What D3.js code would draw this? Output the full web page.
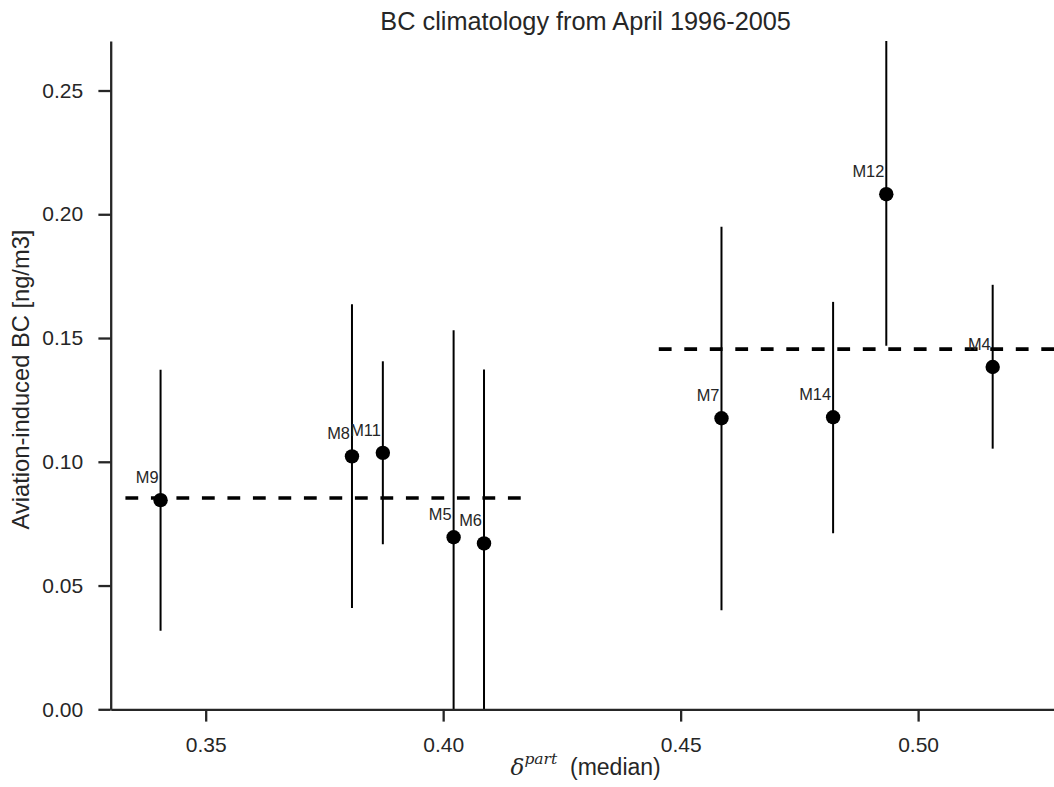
<!DOCTYPE html>
<html>
<head>
<meta charset="utf-8">
<script src="https://cdn.jsdelivr.net/npm/d3@7"></script>
<style>
  html, body { margin: 0; padding: 0; background: #fff; }
  svg { display: block; font-family: "Liberation Sans", Arial, Helvetica, sans-serif; }
</style>
</head>
<body>
<svg id="chart" width="1054" height="787"></svg>
<script>
// Model labels and their medians / spread
const models      = ["M9", "M8", "M11", "M5", "M6", "M7", "M14", "M12", "M4"];
const deltaMedian = [0.3405, 0.3808, 0.3873, 0.4022, 0.4086, 0.4586, 0.4821, 0.4933, 0.5157];
const bcMedian    = [0.0845, 0.1022, 0.1036, 0.0695, 0.0670, 0.1176, 0.1180, 0.2081, 0.1383];
const bcLow       = [0.0317, 0.0409, 0.0667, -0.020, -0.020, 0.0400, 0.0711, 0.1469, 0.1053];
const bcHigh      = [0.1372, 0.1636, 0.1406, 0.1531, 0.1373, 0.1950, 0.1646, 0.2900, 0.1715];
const modelGroup  = [0, 0, 0, 0, 0, 1, 1, 1, 1];

// Horizontal extent of the group-mean lines
const groupStart = [0.3331, 0.4454];
const groupEnd   = [0.4170, 0.5350];

const xTicks = [0.35, 0.40, 0.45, 0.50];
const yTicks = [0.00, 0.05, 0.10, 0.15, 0.20, 0.25];

const xDomain = [0.33, 0.53];
const yDomain = [0, 0.27];

const svg = d3.select("#chart");
const plotLeft = 110.7, plotRight = 1060.6, plotTop = 41, plotBottom = 709.3;
const ink = "#262626";

const x = d3.scaleLinear().domain(xDomain).range([plotLeft, plotRight]);
const y = d3.scaleLinear().domain(yDomain).range([plotBottom, plotTop]);

const points = models.map((m, i) => ({
  name: m, x: deltaMedian[i], y: bcMedian[i], lo: bcLow[i], hi: bcHigh[i], g: modelGroup[i]
}));

const groupMeans = groupStart.map((s, g) => ({
  x0: s, x1: groupEnd[g],
  y: d3.mean(points.filter(p => p.g === g), p => p.y)
}));

svg.append("defs").append("clipPath").attr("id", "plotArea")
  .append("rect").attr("x", plotLeft).attr("y", plotTop)
  .attr("width", plotRight - plotLeft).attr("height", plotBottom - plotTop);

const plot = svg.append("g").attr("clip-path", "url(#plotArea)");

// Error bars
plot.selectAll("line.err").data(points).join("line")
  .attr("class", "err")
  .attr("x1", d => x(d.x)).attr("x2", d => x(d.x))
  .attr("y1", d => y(d.lo)).attr("y2", d => y(d.hi))
  .attr("stroke", "#000").attr("stroke-width", 2);

// Group mean lines
plot.selectAll("line.mean").data(groupMeans).join("line")
  .attr("class", "mean")
  .attr("x1", d => x(d.x0)).attr("x2", d => x(d.x1))
  .attr("y1", d => y(d.y)).attr("y2", d => y(d.y))
  .attr("stroke", "#000").attr("stroke-width", 3.6)
  .attr("stroke-dasharray", "12.8,12.7");

// Median markers
plot.selectAll("circle").data(points).join("circle")
  .attr("cx", d => x(d.x)).attr("cy", d => y(d.y)).attr("r", 7.2)
  .attr("fill", "#000");

// Model names
svg.append("g").selectAll("text").data(points).join("text")
  .attr("x", d => x(d.x) - 2).attr("y", d => y(d.y) - 17)
  .attr("text-anchor", "end")
  .attr("font-size", 16.4).attr("fill", ink)
  .text(d => d.name);

// Axes
const xAxis = svg.append("g").attr("transform", `translate(0,${plotBottom})`)
  .call(d3.axisBottom(x).tickValues(xTicks).tickFormat(d3.format(".2f"))
    .tickSize(12.3).tickPadding(15.2).tickSizeOuter(0));
const yAxis = svg.append("g").attr("transform", `translate(${plotLeft},0)`)
  .call(d3.axisLeft(y).tickValues(yTicks).tickFormat(d3.format(".2f"))
    .tickSize(12.3).tickPadding(15.2).tickSizeOuter(0));

[xAxis, yAxis].forEach(a => {
  a.select(".domain").attr("stroke", ink).attr("stroke-width", 2.3);
  a.selectAll(".tick line").attr("stroke", ink).attr("stroke-width", 2.3);
  a.selectAll(".tick text").attr("fill", ink).attr("font-size", 21)
    .attr("font-family", "Liberation Sans, Arial, sans-serif");
});

// Title
svg.append("text")
  .attr("x", (plotLeft + plotRight) / 2).attr("y", 30)
  .attr("text-anchor", "middle").attr("font-size", 25.3).attr("fill", ink)
  .text("BC climatology from April 1996-2005");

// Y axis label
svg.append("text")
  .attr("transform", `translate(28.5,379.5) rotate(-90)`)
  .attr("text-anchor", "middle").attr("font-size", 23.7).attr("fill", ink)
  .text("Aviation-induced BC [ng/m3]");

// X axis label: delta^part (median)
const xl = svg.append("text")
  .attr("x", (plotLeft + plotRight) / 2).attr("y", 775)
  .attr("text-anchor", "middle").attr("font-size", 23).attr("fill", ink);
xl.append("tspan")
  .attr("font-family", "DejaVu Serif, Liberation Serif, serif").attr("font-style", "italic")
  .text("δ");
xl.append("tspan")
  .attr("font-family", "DejaVu Serif, Liberation Serif, serif").attr("font-style", "italic")
  .attr("font-size", 15.5).attr("dy", -11).text("part");
xl.append("tspan").attr("dy", 11).text("\u00a0 (median)");
</script>
</body>
</html>
